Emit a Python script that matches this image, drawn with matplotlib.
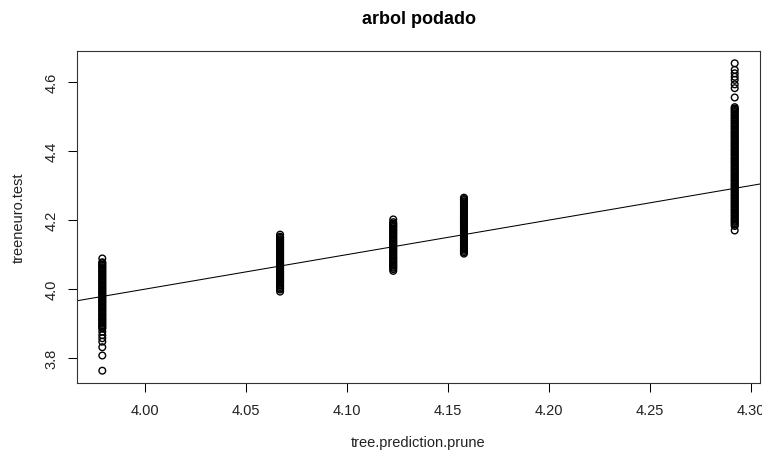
import numpy as np
import matplotlib
matplotlib.use("Agg")
import matplotlib.pyplot as plt

plt.rcParams['font.family'] = ['Liberation Sans', 'DejaVu Sans']

# ---- data (predicted value -> observed test values), values in thousandths ----
pred_levels = [3.979, 4.067, 4.123, 4.158, 4.292]

obs_c1 = [4089, 4078, 4075, 4071, 4068, 4064, 4061, 4057, 4053, 4050, 4046, 4043,
          4039, 4036, 4032, 4028, 4025, 4021, 4018, 4014, 4011, 4007, 4003, 4000,
          3996, 3993, 3989, 3986, 3982, 3978, 3975, 3971, 3968, 3964, 3961, 3957,
          3953, 3950, 3946, 3943, 3939, 3936, 3932, 3928, 3925, 3921, 3918, 3914,
          3911, 3907, 3903, 3900, 3896, 3893, 3889, 3886, 3877, 3867, 3858, 3848,
          3832, 3808, 3764]
obs_c2 = [4158, 4152, 4149, 4145, 4142, 4138, 4135, 4131, 4127, 4124, 4120, 4117,
          4113, 4110, 4106, 4102, 4099, 4095, 4092, 4088, 4085, 4081, 4077, 4074,
          4070, 4067, 4063, 4060, 4056, 4052, 4049, 4045, 4042, 4038, 4035, 4031,
          4027, 4024, 4020, 4017, 4013, 4010, 4006, 4002, 3999, 3993]
obs_c3 = [4202, 4194, 4190, 4187, 4183, 4180, 4176, 4172, 4169, 4165, 4162, 4158,
          4155, 4151, 4147, 4144, 4140, 4137, 4133, 4130, 4126, 4122, 4119, 4115,
          4112, 4108, 4105, 4101, 4097, 4094, 4090, 4087, 4083, 4080, 4076, 4072,
          4069, 4065, 4062, 4058, 4053]
obs_c4 = [4265, 4261, 4258, 4254, 4251, 4247, 4243, 4240, 4236, 4233, 4229, 4226,
          4222, 4218, 4215, 4211, 4208, 4204, 4201, 4197, 4193, 4190, 4186, 4183,
          4179, 4176, 4172, 4168, 4165, 4161, 4158, 4154, 4151, 4147, 4143, 4140,
          4136, 4133, 4129, 4126, 4122, 4118, 4115, 4111, 4107, 4103]
obs_c5 = [4654, 4635, 4625, 4615, 4606, 4593, 4582, 4555,
          4527, 4523, 4520, 4516, 4513, 4509, 4505, 4502, 4498, 4495, 4491, 4488,
          4484, 4480, 4477, 4473, 4470, 4466, 4463, 4459, 4455, 4452, 4448, 4445,
          4441, 4438, 4434, 4430, 4427, 4423, 4420, 4416, 4413, 4409, 4405, 4402,
          4398, 4395, 4391, 4388, 4384, 4380, 4377, 4373, 4370, 4366, 4363, 4359,
          4355, 4352, 4348, 4345, 4341, 4338, 4334, 4330, 4327, 4323, 4320, 4316,
          4313, 4309, 4305, 4302, 4298, 4295, 4291, 4288, 4284, 4280, 4277, 4273,
          4270, 4266, 4263, 4259, 4255, 4252, 4248, 4245, 4241, 4238, 4234, 4230,
          4227, 4223, 4220, 4216, 4213, 4209, 4205, 4202, 4198, 4195, 4191, 4187,
          4183, 4170]
obs_groups = [obs_c1, obs_c2, obs_c3, obs_c4, obs_c5]

line_intercept = 0.0
line_slope = 1.0

x_ticks = [4.00, 4.05, 4.10, 4.15, 4.20, 4.25, 4.30]
x_ticklabels = ["4.00", "4.05", "4.10", "4.15", "4.20", "4.25", "4.30"]
y_ticks = [3.8, 4.0, 4.2, 4.4, 4.6]
y_ticklabels = ["3.8", "4.0", "4.2", "4.4", "4.6"]

title = "arbol podado"
xlabel = "tree.prediction.prune"
ylabel = "treeneuro.test"

# ---- build arrays ----
xs = np.concatenate([np.full(len(g), p) for p, g in zip(pred_levels, obs_groups)])
ys = np.concatenate([np.array(g) / 1000.0 for g in obs_groups])

W, H = 762, 460
fig = plt.figure(figsize=(W / 100, H / 100), dpi=100)
L, R, T, B = 77, 760, 52, 384
ax = fig.add_axes([L / W, 1 - B / H, (R - L) / W, (B - T) / H])

sc = ax.scatter(xs, ys, s=4.8 ** 2, marker='o', facecolors='none',
                edgecolors='black', linewidths=1.0)
sc.set_snap(False)

# R-style 4% axis extension
xr = xs.max() - xs.min()
yr = ys.max() - ys.min()
xlim = (xs.min() - 0.04 * xr, xs.max() + 0.04 * xr)
ylim = (ys.min() - 0.04 * yr, ys.max() + 0.04 * yr)
ax.set_xlim(*xlim)
ax.set_ylim(*ylim)

lx = np.array(xlim)
ax.plot(lx, line_intercept + line_slope * lx, color='black', lw=0.75)

ax.set_xticks(x_ticks)
ax.set_xticklabels(x_ticklabels)
ax.set_yticks(y_ticks)
ax.set_yticklabels(y_ticklabels)
ax.tick_params(axis='both', direction='out', length=6.2, width=0.75,
               colors='black', labelsize=10.5)
ax.tick_params(axis='x', pad=8.5)
ax.tick_params(axis='y', pad=7.0)
for lbl in ax.get_yticklabels():
    lbl.set_rotation(90)
    lbl.set_va('center')
    lbl.set_color('#222222')
for lbl in ax.get_xticklabels():
    lbl.set_color('#222222')

for s in ax.spines.values():
    s.set_linewidth(0.8)
    s.set_color('#333333')

ax.set_xlabel(xlabel, fontsize=10.5, color='#222222')
ax.xaxis.set_label_coords(0.5, (B - 443) / (B - T))
ax.xaxis.label.set_va('center')
ax.set_ylabel(ylabel, fontsize=10.5, color='#222222')
ax.yaxis.set_label_coords((19 - L) / (R - L), 0.5)
ax.yaxis.label.set_va('center')

fig.text((L + R) / 2 / W, 1 - 19 / H, title, ha='center', va='center',
         fontsize=13, fontweight='bold')

fig.savefig("out.png", dpi=100)
